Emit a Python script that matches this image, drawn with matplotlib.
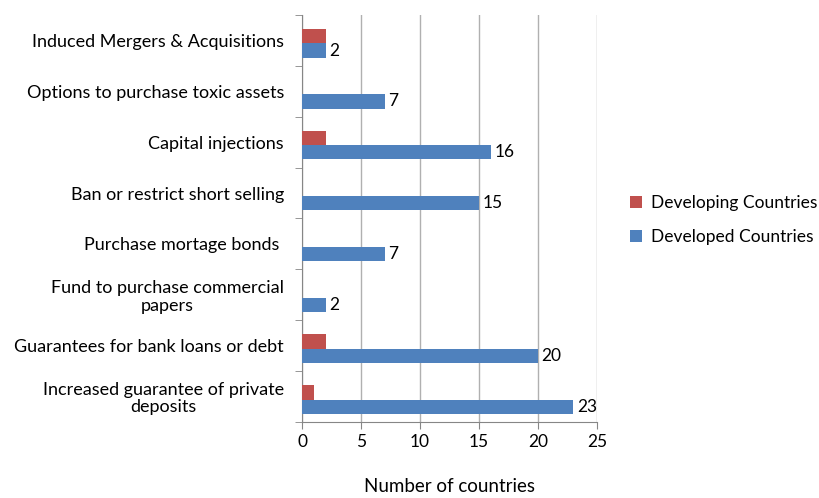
import numpy as np
import matplotlib.pyplot as plt

# categories listed top to bottom as in the chart
categories = ["Induced Mergers & Acquisitions",
              "Options to purchase toxic assets",
              "Capital injections",
              "Ban or restrict short selling",
              "Purchase mortage bonds ",
              "Fund to purchase commercial\npapers",
              "Guarantees for bank loans or debt",
              "Increased guarantee of private\ndeposits"]
developed = [2, 7, 16, 15, 7, 2, 20, 23]
developing = [2, 0, 2, 0, 0, 0, 2, 1]

plt.rcParams['font.family'] = ['Lato', 'DejaVu Sans']

fig = plt.figure(figsize=(8.19, 4.98), dpi=100)
ax = fig.add_axes([302/819, 76/498, 295/819, 407/498])

n = len(categories)
y = np.arange(n)
h = 0.28
ax.barh(y + h/2 + 0.06, developed, height=h, color='#4f81bd', label='Developed Countries', zorder=3)
ax.barh(y - h/2 + 0.06, developing, height=h, color='#c0504d', label='Developing Countries', zorder=3)

for yi, v in zip(y, developed):
    ax.text(v + 0.3, yi + h/2 + 0.06, str(v), va='center', ha='left', fontsize=12.5)

ax.set_ylim(n - 0.5, -0.5)
ax.set_xlim(0, 25)
ax.set_xticks(range(0, 26, 5))
ax.set_yticks(y)
ax.set_yticklabels(categories, fontsize=13, multialignment='center', linespacing=1.1)
ax.set_yticks(np.arange(-0.5, n, 1), minor=True)
ax.tick_params(axis='y', which='major', length=0, pad=13)
ax.tick_params(axis='y', which='minor', length=5, color='#868686')
ax.tick_params(axis='x', length=5, color='#868686', labelsize=12.5)
ax.grid(axis='x', color='#b0b0b0', linewidth=1, zorder=0)
for s in ['top', 'right']:
    ax.spines[s].set_visible(False)
for s in ['left', 'bottom']:
    ax.spines[s].set_color('#868686')
ax.set_xlabel("Number of countries", fontsize=13.5, labelpad=20)

handles, labels = ax.get_legend_handles_labels()
fig.legend(handles[::-1], labels[::-1], loc='center left', bbox_to_anchor=(630/819, 1 - 220/498),
           frameon=False, fontsize=12.5, handlelength=0.7, handleheight=0.7, labelspacing=1.0,
           handletextpad=0.5, borderpad=0, borderaxespad=0)

fig.savefig('out.png', dpi=100)
